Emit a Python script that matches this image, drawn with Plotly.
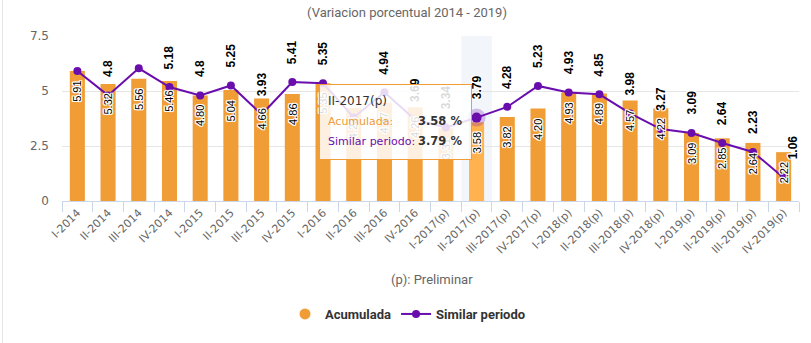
import plotly.graph_objects as go

# ---------------- data ----------------
categories = ["I-2014", "II-2014", "III-2014", "IV-2014",
              "I-2015", "II-2015", "III-2015", "IV-2015",
              "I-2016", "II-2016", "III-2016", "IV-2016",
              "I-2017(p)", "II-2017(p)", "III-2017(p)", "IV-2017(p)",
              "I-2018(p)", "II-2018(p)", "III-2018(p)", "IV-2018(p)",
              "I-2019(p)", "II-2019(p)", "III-2019(p)", "IV-2019(p)"]

acumulada = [5.91, 5.32, 5.56, 5.46, 4.80, 5.04, 4.66, 4.86,
             5.35, 4.23, 4.47, 4.26, 3.31, 3.58, 3.82, 4.20,
             4.93, 4.89, 4.57, 4.22, 3.09, 2.85, 2.64, 2.22]

similar_periodo = [5.91, 4.80, 6.03, 5.18, 4.80, 5.25, 3.93, 5.41,
                   5.35, 3.80, 4.94, 3.69, 3.34, 3.79, 4.28, 5.23,
                   4.93, 4.85, 3.98, 3.27, 3.09, 2.64, 2.23, 1.06]

hidden_similar_labels = [0, 2, 9]      # labels hidden by overlap in the original
hover_index = 13                       # category shown in the tooltip
y_ticks = [0, 2.5, 5, 7.5]

title_text = "(Variacion porcentual 2014 - 2019)"
xaxis_note = "(p): Preliminar"

# ---------------- styles ----------------
W, H = 811, 343
L, R, T, B = 62, 12, 36, 142
PW, PH = W - L - R, H - T - B

ORANGE = "#F09D36"
ORANGE_HI = "#FFB24E"
PURPLE = "#6A0DAD"
GREY = "#666666"
OUTLINE = "1px 0 0 #fff, -1px 0 0 #fff, 0 1px 0 #fff, 0 -1px 0 #fff, 1px 1px 0 #fff, -1px -1px 0 #fff, 1px -1px 0 #fff, -1px 1px 0 #fff"
NARROW = "Liberation Sans Narrow, Arial Narrow, Roboto, sans-serif"
VERD = "DejaVu Sans, Verdana, sans-serif"


def px_x(px):
    return (px - L) / PW


def px_y(py):
    return (H - B - py) / PH


bar_colors = [ORANGE_HI if i == hover_index else ORANGE for i in range(len(categories))]

fig = go.Figure()
fig.add_trace(go.Bar(x=categories, y=acumulada, marker=dict(color=bar_colors, line=dict(width=0)),
                     width=0.49, showlegend=False, hoverinfo="skip", name="Acumulada"))
fig.add_trace(go.Scatter(x=[None], y=[None], mode="markers", name="Acumulada",
                         marker=dict(symbol="circle", size=11, color=ORANGE)))
fig.add_trace(go.Scatter(x=categories, y=similar_periodo, mode="lines+markers", name="Similar periodo",
                         line=dict(color=PURPLE, width=2), marker=dict(size=8, color=PURPLE),
                         hoverinfo="skip"))
fig.add_trace(go.Scatter(x=[categories[hover_index]], y=[similar_periodo[hover_index]], mode="markers",
                         showlegend=False, hoverinfo="skip",
                         marker=dict(size=10, color=PURPLE, line=dict(width=8, color="rgba(106,13,173,0.25)"))))

annotations = []
# bar labels (inside, rotated)
for i, (c, v) in enumerate(zip(categories, acumulada)):
    annotations.append(dict(x=c, y=v, xref="x", yref="y", text=f"{v:.2f}", showarrow=False,
                            textangle=-90, yanchor="top", xanchor="center", yshift=-8,
                            font=dict(family="Liberation Sans, Arial", size=11, color="#000000",
                                      shadow=OUTLINE)))
# line labels (above points, rotated)
for i, (c, v) in enumerate(zip(categories, similar_periodo)):
    if i in hidden_similar_labels:
        continue
    annotations.append(dict(x=c, y=v, xref="x", yref="y", text=f"{v:g}", showarrow=False,
                            textangle=-90, yanchor="bottom", xanchor="center", yshift=16,
                            xshift=9 if i == len(categories) - 1 else 0,
                            font=dict(family="Liberation Sans, Arial", size=12, color="#000000",
                                      weight="bold", shadow=OUTLINE)))
# x-axis note
annotations.append(dict(x=px_x(432), y=px_y(279), xref="paper", yref="paper", text=xaxis_note,
                        showarrow=False, xanchor="center", yanchor="middle",
                        font=dict(family=NARROW, size=13, color=GREY)))

# tooltip box
annotations.append(dict(x=px_x(472), y=px_y(84), xref="paper", yref="paper", text=" ",
                        showarrow=False, xanchor="right", yanchor="top", width=151, height=74,
                        bgcolor="rgba(255,255,255,0.85)", bordercolor=ORANGE, borderwidth=1, borderpad=0))
hv_cat = categories[hover_index]
tip_rows = [(101, hv_cat, "#333333", None, 12),
            (121, "Acumulada:", ORANGE, f"{acumulada[hover_index]:.2f} %", 11),
            (141, "Similar periodo:", PURPLE, f"{similar_periodo[hover_index]:.2f} %", 11)]
for py, lab, col, val, fs in tip_rows:
    annotations.append(dict(x=px_x(326), y=px_y(py), xref="paper", yref="paper", text=lab,
                            showarrow=False, xanchor="left", yanchor="middle",
                            font=dict(family=VERD, size=fs, color=col)))
    if val:
        annotations.append(dict(x=px_x(464), y=px_y(py), xref="paper", yref="paper", text=val,
                                showarrow=False, xanchor="right", yanchor="middle",
                                font=dict(family=VERD, size=11.5, color="#333333", weight="bold")))

shapes = [
    dict(type="rect", xref="x", yref="paper", x0=hover_index - 0.5, x1=hover_index + 0.5, y0=0, y1=1,
         fillcolor="rgba(204,214,235,0.25)", line=dict(width=0), layer="below"),
    dict(type="line", xref="paper", yref="paper", x0=px_x(2.5), x1=px_x(2.5), y0=px_y(H), y1=px_y(0),
         line=dict(color="#E6E6E6", width=1)),
]

fig.update_layout(
    width=W, height=H, margin=dict(l=L, r=R, t=T, b=B),
    paper_bgcolor="white", plot_bgcolor="white",
    title=dict(text=title_text, x=407 / W, xref="container", xanchor="center",
               y=1 - 12 / H, yref="container", yanchor="middle",
               font=dict(family=NARROW, size=13, color=GREY)),
    bargap=0.51,
    hovermode=False,
    showlegend=True,
    legend=dict(orientation="h", x=px_x(408), y=px_y(314), xanchor="center", yanchor="middle",
                font=dict(family=NARROW, size=13, color="#333333", weight="bold"),
                itemwidth=30, bgcolor="rgba(0,0,0,0)"),
    annotations=annotations,
    shapes=shapes,
    xaxis=dict(type="category", tickangle=-45, tickson="boundaries", ticks="outside", ticklen=10,
               tickcolor="#CCD6EB", showline=True, linecolor="#CCD6EB", linewidth=1,
               showgrid=False, tickfont=dict(family=VERD, size=11, color=GREY),
               range=[-0.5, len(categories) - 0.5]),
    yaxis=dict(range=[0, 7.5], tickvals=y_ticks, ticktext=[f"{t:g}" for t in y_ticks],
               showgrid=True, gridcolor="#E6E6E6", gridwidth=1, zeroline=False,
               showline=False, ticks="", ticklabelstandoff=12,
               tickfont=dict(family=VERD, size=12, color=GREY)),
)

fig.write_html("out.html")
